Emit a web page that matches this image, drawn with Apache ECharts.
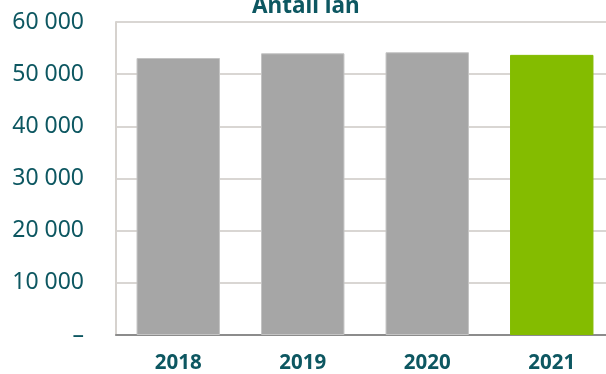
<!DOCTYPE html>
<html>
<head>
<meta charset="utf-8">
<script src="https://cdn.jsdelivr.net/npm/echarts@6/dist/echarts.min.js"></script>
<style>
html,body{margin:0;padding:0;background:#fff;}
#chart{width:606px;height:374px;}
</style>
</head>
<body>
<div id="chart"></div>
<script>
var years = ['2018', '2019', '2020', '2021'];
var loans = [53100, 54000, 54200, 53700];
var barColors = ['#a6a6a6', '#a6a6a6', '#a6a6a6', '#84bc00'];
var yTicks = [0, 10000, 20000, 30000, 40000, 50000, 60000];

var textColor = '#0d5761';

var myChart = echarts.init(document.getElementById('chart'));
var option = {
    animation: false,
    title: {
        text: 'Antall lån',
        left: 247,
        top: -10,
        textStyle: {
            fontFamily: 'Noto Sans',
            fontSize: 22.5,
            fontWeight: 'bold',
            color: textColor
        }
    },
    grid: {
        left: 116,
        width: 498,
        top: 22,
        height: 313,
        outerBoundsMode: 'none'
    },
    xAxis: {
        type: 'category',
        data: years,
        axisTick: {show: false},
        axisLine: {
            show: true,
            lineStyle: {color: '#8c8c8c', width: 2}
        },
        axisLabel: {
            margin: 18,
            fontFamily: 'Noto Sans',
            fontSize: 20.5,
            fontWeight: 'bold',
            color: textColor
        }
    },
    yAxis: {
        type: 'value',
        min: yTicks[0],
        max: yTicks[yTicks.length - 1],
        interval: 10000,
        axisLine: {
            show: true,
            lineStyle: {color: '#d6d2ce', width: 2}
        },
        axisTick: {show: false},
        splitLine: {
            show: true,
            lineStyle: {color: '#d9d6d3', width: 2}
        },
        axisLabel: {
            margin: 32,
            fontFamily: 'Noto Sans',
            fontSize: 23,
            color: textColor,
            formatter: function (v) {
                if (v === 0) return '–';
                return String(v).replace(/\B(?=(\d{3})+(?!\d))/g, ' ');
            }
        }
    },
    series: [
        {
            name: 'Antall lån',
            type: 'bar',
            barWidth: '67%',
            data: loans.map(function (v, i) {
                return {
                    value: v,
                    itemStyle: {
                        color: barColors[i],
                        borderColor: i < 3 ? '#c4c4c4' : barColors[i],
                        borderWidth: 1
                    }
                };
            })
        }
    ]
};
myChart.setOption(option);
</script>
</body>
</html>
